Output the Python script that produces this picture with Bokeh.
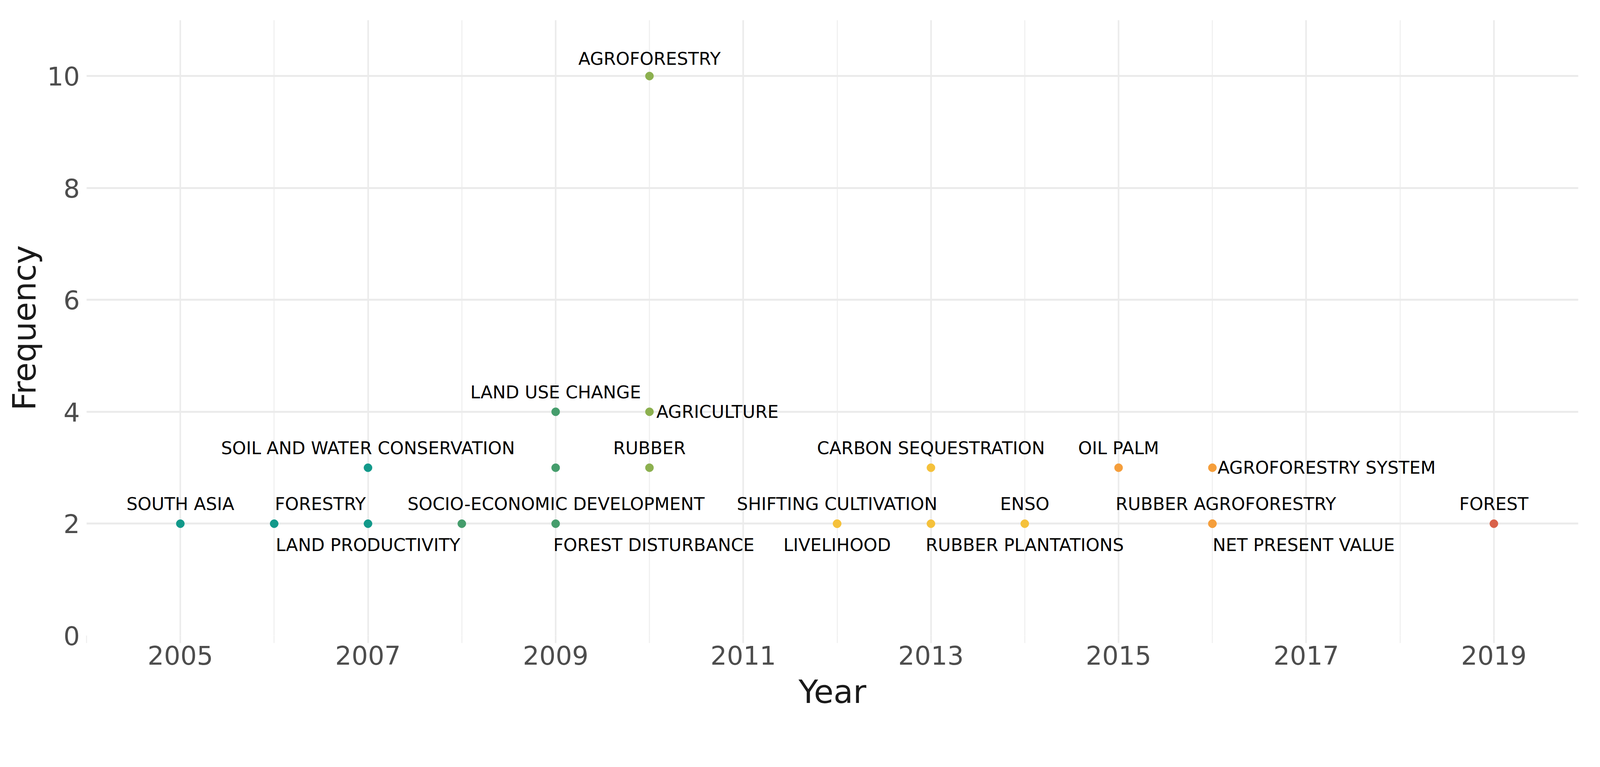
from bokeh.plotting import figure
from bokeh.models import FixedTicker, ColumnDataSource, Range1d
from bokeh.core.properties import value
from bokeh.embed import file_html
from bokeh.resources import INLINE

# ---- data ----
years = [2005, 2006, 2007, 2007, 2008, 2009, 2009, 2009, 2010, 2010, 2010,
         2012, 2012, 2013, 2013, 2014, 2015, 2016, 2016, 2016, 2019]
freqs = [2, 2, 2, 3, 2, 2, 3, 4, 4, 10, 3,
         2, 2, 3, 2, 2, 3, 3, 2, 2, 2]
keywords = ["SOUTH ASIA", "FORESTRY", "LAND PRODUCTIVITY", "SOIL AND WATER CONSERVATION",
            "SOCIO-ECONOMIC DEVELOPMENT", "FOREST DISTURBANCE", "", "LAND USE CHANGE",
            "AGRICULTURE", "AGROFORESTRY", "RUBBER", "SHIFTING CULTIVATION", "LIVELIHOOD",
            "CARBON SEQUESTRATION", "RUBBER PLANTATIONS", "ENSO", "OIL PALM",
            "AGROFORESTRY SYSTEM", "RUBBER AGROFORESTRY", "NET PRESENT VALUE", "FOREST"]
x_ticks = [2005, 2007, 2009, 2011, 2013, 2015, 2017, 2019]
x_minor = [2004, 2006, 2008, 2010, 2012, 2014, 2016, 2018, 2020]
y_ticks = [0, 2, 4, 6, 8, 10]

# ---- styles / layout ----
S = 1 / 1.074  # page pixel per reference pixel


def px(v):
    return int(round(v * S))


year_colors = {2005: "#12998a", 2006: "#12998a", 2007: "#12998a", 2008: "#459d6c",
               2009: "#459d6c", 2010: "#8cb04f", 2012: "#f5c13b", 2013: "#f5c13b",
               2014: "#f5c13b", 2015: "#f59e3b", 2016: "#f59e3b", 2019: "#d9624a"}
# label offsets in reference pixels (dx right, dy up), ggrepel-like placement
label_dx = [0, 127, 0, 0, 259, 270, 0, 0, 187, 0, 0, 0, 0, 0, 258, 0, 0, 314, 37, 251, 0]
label_dy = [54, 54, -59, 54, 54, -59, 0, 54, 0, 48, 54, 54, -59, 54, -59, 54, 54, 0, 54, -59, 54]

colors = [year_colors[y] for y in years]
pts = ColumnDataSource(dict(x=years, y=freqs, c=colors))

idx = [i for i, k in enumerate(keywords) if k]
labs = ColumnDataSource(dict(
    x=[years[i] for i in idx], y=[freqs[i] for i in idx], t=[keywords[i] for i in idx],
    dx=[label_dx[i] * S for i in idx], dy=[-label_dy[i] * S for i in idx]))

W, H = 4076, 1834
p = figure(width=W, height=H, output_backend="svg", toolbar_location=None,
           x_range=Range1d(2004, 2019.9), y_range=Range1d(0, 11.0),
           min_border_left=221, min_border_right=36, min_border_top=51, min_border_bottom=207)
p.background_fill_color = "white"
p.border_fill_color = "white"
p.outline_line_color = None

p.xaxis.ticker = FixedTicker(ticks=x_ticks, minor_ticks=x_minor)
p.yaxis.ticker = FixedTicker(ticks=y_ticks, minor_ticks=[])

grid_col = "#ebebeb"
p.xgrid.grid_line_color = grid_col
p.xgrid.grid_line_width = 4
p.xgrid.minor_grid_line_color = "#f1f1f1"
p.xgrid.minor_grid_line_width = 3
p.ygrid.grid_line_color = grid_col
p.ygrid.grid_line_width = 5

for ax in (p.xaxis, p.yaxis):
    ax.axis_line_color = None
    ax.major_label_text_font = "DejaVu Sans"
    ax.major_label_text_font_size = f"{px(71)}px"
    ax.major_label_text_color = "#4d4d4d"
    ax.axis_label_text_font = "DejaVu Sans"
    ax.axis_label_text_font_size = f"{px(88)}px"
    ax.axis_label_text_font_style = "normal"
    ax.axis_label_text_color = "#1a1a1a"
    ax.major_tick_in = 0
    ax.minor_tick_in = 0

p.xaxis.axis_label = "Year"
p.yaxis.axis_label = "Frequency"
p.xaxis.major_tick_out = px(20)
p.xaxis.minor_tick_out = px(20)
p.xaxis.major_tick_line_color = grid_col
p.xaxis.minor_tick_line_color = "#f1f1f1"
p.xaxis.major_tick_line_width = 4
p.xaxis.minor_tick_line_width = 3
p.xaxis.major_label_standoff = 6
p.xaxis.axis_label_standoff = 19
p.yaxis.major_tick_out = 0
p.yaxis.minor_tick_out = 0
p.yaxis.major_tick_line_color = None
p.yaxis.minor_tick_line_color = None
p.yaxis.major_label_standoff = px(18)
p.yaxis.axis_label_standoff = 8

p.scatter("x", "y", source=pts, size=px(23), fill_color="c", line_color="c")
p.text("x", "y", text="t", source=labs, x_offset="dx", y_offset="dy",
       text_font=value("DejaVu Sans"), text_font_size=f"{px(48)}px", text_color="black",
       text_align="center", text_baseline="middle")

open("out.html", "w").write(file_html(p, INLINE))
